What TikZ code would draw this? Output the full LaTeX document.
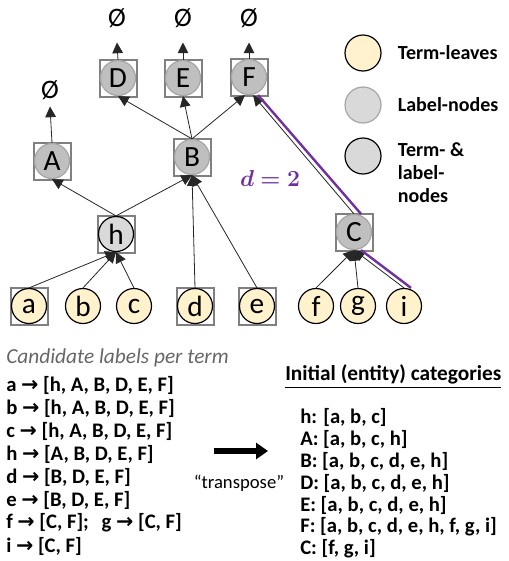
\documentclass[tikz,border=0pt]{standalone}
\usepackage{fontspec}
\setmainfont{Carlito}
\newfontfamily\arrowfont{DejaVu Sans}
\usepackage{amsmath,bm}
\usetikzlibrary{arrows.meta,calc,positioning,backgrounds}

\definecolor{leafcream}{HTML}{FFF2CC}
\definecolor{lblgray}{HTML}{BFBFBF}
\definecolor{lblborder}{HTML}{A6A6A6}
\definecolor{termgray}{HTML}{D9D9D9}
\definecolor{boxgray}{HTML}{808080}
\definecolor{pathpurple}{HTML}{7030A0}
\definecolor{captiongray}{HTML}{666666}

\newcommand{\ra}{{\arrowfont →}}

\tikzset{
  treenode/.style={circle, minimum size=26.25pt, inner sep=0pt, line width=0.9pt,
    font=\fontsize{22}{22}\selectfont},
  labelnode/.style={treenode, fill=lblgray, draw=lblborder},
  termnode/.style={treenode, fill=termgray, draw=black},
  leafnode/.style={treenode, fill=leafcream, draw=black},
  sqbox/.style={draw=boxgray, line width=1.5pt},
  edge/.style={-{Triangle[width=8pt,length=8pt]}, line width=0.6pt, draw=black!85},
  dpath/.style={draw=pathpurple, line width=1.8pt},
  emptyset/.style={inner sep=0pt, font=\fontsize{20}{20}\selectfont},
  legendtext/.style={inner sep=0pt, align=left, font=\fontsize{15}{17}\selectfont\bfseries},
  listtext/.style={inner sep=0pt, anchor=west, font=\fontsize{15.5}{15.5}\selectfont\bfseries},
  captiontext/.style={inner sep=0pt, anchor=west, text=captiongray,
    font=\fontsize{16}{16}\selectfont\itshape},
  headtext/.style={inner sep=0pt, anchor=west, font=\fontsize{16}{16}\selectfont\bfseries},
  bigarrow/.style={-{Triangle[width=12pt,length=9pt]}, line width=4.2pt},
}

\begin{document}
\begin{tikzpicture}[x=0.75pt,y=-0.75pt]
  \useasboundingbox (0,0) rectangle (508,561);

  % Draw the label nodes
  \node[labelnode] (D) at (118,78) {D};
  \node[labelnode] (E) at (183,78) {E};
  \node[labelnode] (F) at (249,77) {F};
  \node[labelnode] (A) at (52,161) {A};
  \node[labelnode] (B) at (192,157) {B};
  \node[labelnode] (C) at (354,232) {C};
  \node[termnode] (h) at (116,234) {h};
  % Draw the term leaves
  \foreach \n/\x in {a/29,b/83,c/134,d/195,e/257,f/316,g/358,i/404}
    \node[leafnode] (\n) at (\x,306) {\n};

  % Boxes around term nodes
  \begin{scope}[on background layer]
    \foreach \n in {D,E,F,A,B,C,h,a,d,e}
      \draw[sqbox] ($(\n)+(-18.5,-18.5)$) rectangle ($(\n)+(18.5,18.5)$);
  \end{scope}

  % Empty sets on top
  \foreach \n/\x/\y in {D/117/18,E/183/18,F/249/18,A/50/90}
    \node[emptyset] (no\n) at (\x,\y) {Ø};
  \foreach \n/\g in {D/11pt,E/11pt,F/11pt,A/5pt}
    \draw[edge] (\n.north) -- ([yshift=-\g]no\n.south);

  % Draw the edges
  \draw[edge] (B.north) -- (D.south);
  \draw[edge] (B.north) -- (E.south);
  \draw[edge] (B.north) -- ([xshift=-3pt]F.south);
  \draw[edge] (C.north) -- ([xshift=3pt]F.south);
  \draw[edge] (h.north) -- (A.south);
  \draw[edge] (h.north) -- (B.south);
  \draw[edge] (d.north) -- (B.south);
  \draw[edge] (e.north) -- (B.south);
  \foreach \n in {a,b,c}
    \draw[edge] (\n.north) -- (h.south);
  \foreach \n in {f,g,i}
    \draw[edge] (\n.north) -- (C.south);

  % Path of length 2
  \draw[dpath] ($(i.north)+(7,0)$) -- ($(C.south)+(7,0)$);
  \draw[dpath] ($(C.north)+(7,0)$) -- ($(F.south)+(9,0)$);
  \node[text=pathpurple, font=\fontsize{17}{17}\selectfont] (dist) at (270,178)
    {$\boldsymbol{d = 2}$};

  % Legend
  \node[leafnode, minimum size=27pt] (legleaf) at (363,53) {};
  \node[treenode, fill=termgray, draw=lblborder, minimum size=27pt] (leglabel) at (363,105) {};
  \node[termnode, minimum size=27pt] (legterm) at (363,156) {};
  \node[legendtext, right=12pt of legleaf] (legleaftxt) {Term-leaves};
  \node[legendtext, right=12pt of leglabel] (leglabeltxt) {Label-nodes};
  \node[legendtext, anchor=north west] (legtermtxt) at ([xshift=12pt,yshift=10pt]legterm.east)
    {Term- \&\\label-\\nodes};

  % Candidate labels per term
  \node[captiontext] (candhead) at (6,358) {Candidate labels per term};
  \foreach \txt [count=\k] in {{a \ra{} [h, A, B, D, E, F]},{b \ra{} [h, A, B, D, E, F]},
      {c \ra{} [h, A, B, D, E, F]},{h \ra{} [A, B, D, E, F]},{d \ra{} [B, D, E, F]},
      {e \ra{} [B, D, E, F]},{f \ra{} [C, F];\hspace{6pt} g \ra{} [C, F]},{i \ra{} [C, F]}}
    \node[listtext] (cand\k) at (6,{385+23*(\k-1)}) {\txt};

  % Transpose arrow
  \coordinate (tfrom) at (214,451);
  \coordinate (tto) at (268,451);
  \draw[bigarrow] (tfrom) -- (tto);
  \node[inner sep=0pt, font=\fontsize{14}{14}\selectfont] (trans) at (239,483) {“transpose”};

  % Initial categories
  \node[headtext] (cathead) at (285,377) {\underline{Initial (entity) categories}};
  \foreach \txt [count=\k] in {{h: [a, b, c]},{A: [a, b, c, h]},{B: [a, b, c, d, e, h]},
      {D: [a, b, c, d, e, h]},{E: [a, b, c, d, e, h]},{F: [a, b, c, d, e, h, f, g, i]},
      {C: [f, g, i]}}
    \node[listtext] (cat\k) at (300,{417+22*(\k-1)}) {\txt};
\end{tikzpicture}
\end{document}
